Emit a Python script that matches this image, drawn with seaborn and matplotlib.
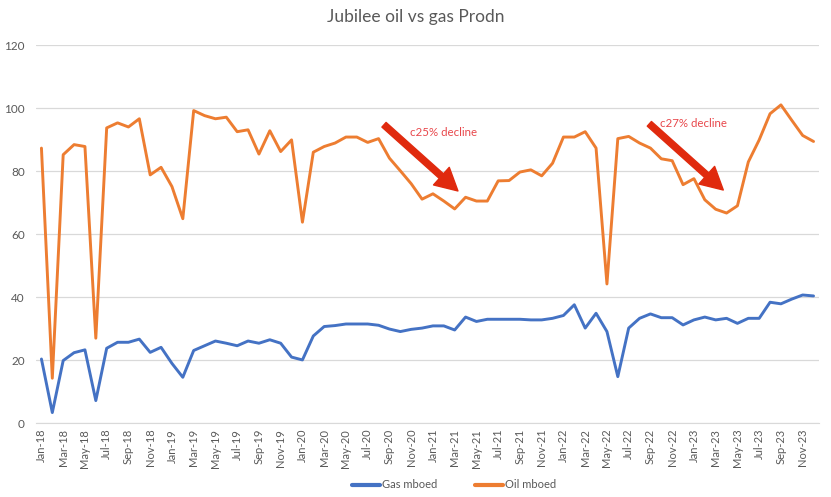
import pandas as pd
import matplotlib.pyplot as plt
import seaborn as sns

# monthly labels Jan-18 .. Dec-23
years = ['18', '19', '20', '21', '22', '23']
mon_names = ['Jan', 'Feb', 'Mar', 'Apr', 'May', 'Jun', 'Jul', 'Aug', 'Sep', 'Oct', 'Nov', 'Dec']
months = [m + '-' + y for y in years for m in mon_names]

# values (mboed)
gas = [20.4, 3.4, 19.9, 22.4, 23.3, 7.2, 23.8, 25.7, 25.7, 26.7, 22.5, 24.1,
       19.0, 14.6, 23.1, 24.6, 26.1, 25.4, 24.6, 26.1, 25.4, 26.5, 25.4, 21.0,
       20.1, 27.7, 30.7, 31.0, 31.5, 31.5, 31.5, 31.1, 29.9, 29.1, 29.8, 30.2,
       30.9, 30.9, 29.6, 33.7, 32.3, 33.0, 33.0, 33.0, 33.0, 32.8, 32.8, 33.3,
       34.2, 37.6, 30.2, 34.9, 29.1, 14.8, 30.2, 33.3, 34.7, 33.5, 33.5, 31.2,
       32.8, 33.7, 32.8, 33.3, 31.7, 33.3, 33.3, 38.4, 37.9, 39.4, 40.7, 40.4]
oil = [87.3, 14.3, 85.2, 88.4, 87.8, 27.0, 93.7, 95.3, 94.0, 96.6, 78.8, 81.2,
       75.1, 64.9, 99.2, 97.6, 96.6, 97.1, 92.5, 93.1, 85.4, 92.8, 86.2, 89.9,
       63.8, 86.0, 87.8, 88.9, 90.8, 90.8, 89.1, 90.3, 84.1, 80.1, 76.0, 71.1,
       72.8, 70.5, 68.0, 71.7, 70.5, 70.5, 76.9, 77.0, 79.7, 80.4, 78.5, 82.5,
       90.8, 90.8, 92.5, 87.3, 44.2, 90.3, 91.0, 88.9, 87.3, 83.9, 83.3, 75.7,
       77.6, 70.9, 67.9, 66.7, 69.0, 82.9, 89.9, 98.2, 101.0, 96.1, 91.3, 89.4]

df = pd.DataFrame({'idx': list(range(len(months))) * 2,
                   'value': gas + oil,
                   'series': ['Gas mboed'] * len(gas) + ['Oil mboed'] * len(oil)})

sns.set_style('white')
plt.rcParams['font.family'] = ['Lato', 'DejaVu Sans']
grey = '#595959'

fig = plt.figure(figsize=(8.31, 4.97), dpi=100)
ax = fig.add_axes([36 / 831, 1 - 423.3 / 497, 783 / 831, 378.3 / 497])

sns.lineplot(data=df, x='idx', y='value', hue='series',
             palette={'Gas mboed': '#4472C4', 'Oil mboed': '#ED7D31'},
             linewidth=2.1, ax=ax, legend=True)

ax.set_xlim(-0.5, len(months) - 0.5)
ax.set_ylim(0, 120)
ax.set_yticks(range(0, 121, 20))
ax.set_xticks(range(0, len(months), 2))
ax.set_xticklabels(months[::2], rotation=90, fontsize=8, color=grey)
ax.tick_params(axis='y', labelsize=8.5, labelcolor=grey, length=0, pad=8)
ax.tick_params(axis='x', length=0, pad=4)
ax.grid(axis='y', color='#d9d9d9', linewidth=0.9)
ax.set_axisbelow(True)
for s in ['top', 'right', 'left']:
    ax.spines[s].set_visible(False)
ax.spines['bottom'].set_color('#d9d9d9')
ax.set_xlabel('')
ax.set_ylabel('')

fig.text(0.5, 1 - 17 / 497, 'Jubilee oil vs gas Prodn', ha='center', va='center',
         fontsize=12.5, color=grey)

# legend below
leg = ax.legend(loc='center', bbox_to_anchor=(0.534, (423.3 - 485) / 378.3), ncol=2,
                frameon=False, fontsize=8, handlelength=2.5, handletextpad=0.2,
                columnspacing=3.4)
for t in leg.get_texts():
    t.set_color(grey)
for h in leg.get_lines():
    h.set_linewidth(3)

# decline annotations
red = '#E02A0E'
ax.annotate('', xy=(38.3, 73.7), xytext=(31.5, 94.7),
            arrowprops=dict(arrowstyle='simple,head_width=1.7,head_length=1.6,tail_width=0.45',
                            color=red, shrinkA=0, shrinkB=0))
ax.text(33.9, 92.2, 'c25% decline', color='#E8474B', fontsize=8.3, va='center')
ax.annotate('', xy=(62.7, 74.0), xytext=(55.9, 95.0),
            arrowprops=dict(arrowstyle='simple,head_width=1.7,head_length=1.6,tail_width=0.45',
                            color=red, shrinkA=0, shrinkB=0))
ax.text(56.9, 95.0, 'c27% decline', color='#E8474B', fontsize=8.3, va='center')

fig.savefig('out.png', dpi=100)
